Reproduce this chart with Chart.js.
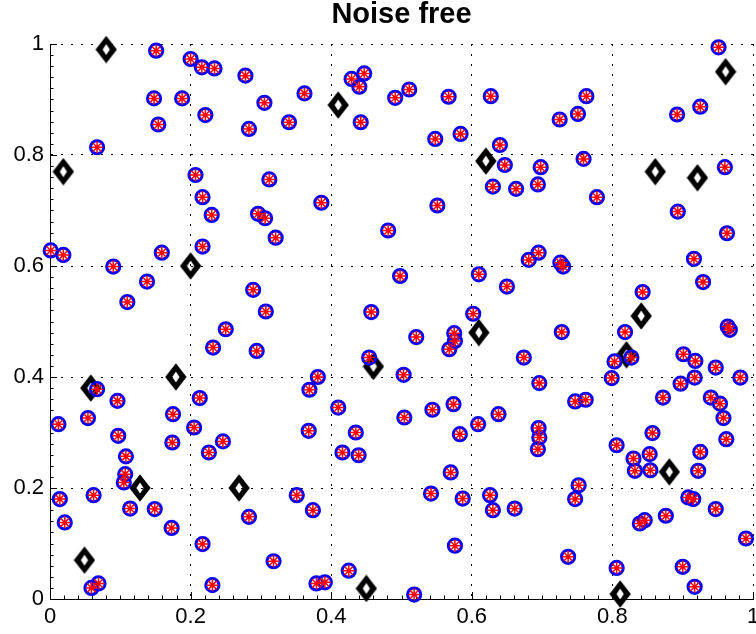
<!DOCTYPE html>
<html>
<head>
<meta charset="utf-8">
<script src="https://cdn.jsdelivr.net/npm/chart.js@4.4.0/dist/chart.umd.min.js"></script>
<style>
  html, body { margin: 0; padding: 0; background: #fff; }
  #plot { display: block; }
</style>
</head>
<body>
<canvas id="plot" width="756" height="634"></canvas>
<script>
// --- data ---
const circleX = [
  0.151, 0.200, 0.216, 0.234, 0.278, 0.148, 0.188, 0.305, 0.221, 0.154, 0.283, 0.067, 0.207, 0.312, 0.217, 0.230, 0.296, 0.306,
  0.362, 0.340, 0.429, 0.447, 0.440, 0.442, 0.491, 0.511, 0.567, 0.627, 0.548, 0.584, 0.640, 0.647, 0.630, 0.386, 0.551, 0.481, 0.663,
  0.951, 0.763, 0.751, 0.725, 0.925, 0.892, 0.698, 0.694, 0.759, 0.778, 0.960, 0.893,
  0.963, 0.695, 0.681, 0.726, 0.730, 0.916, 0.929, 0.650, 0.843, 0.964, 0.967, 0.818, 0.728, 0.674, 0.803, 0.827, 0.901, 0.918,
  0.947, 0.982, 0.799, 0.696, 0.897, 0.917, 0.872, 0.747, 0.762, 0.940, 0.953,
  0.958, 0.962, 0.695, 0.696, 0.694, 0.857, 0.806, 0.830, 0.853, 0.925, 0.832, 0.854, 0.922, 0.752, 0.747, 0.661, 0.908, 0.915,
  0.947, 0.839, 0.846, 0.876, 0.990, 0.737, 0.806, 0.900, 0.917,
  0.410, 0.368, 0.435, 0.416, 0.439, 0.504, 0.544, 0.574, 0.609, 0.638, 0.583, 0.570, 0.542, 0.587, 0.626, 0.630, 0.351, 0.374,
  0.318, 0.425, 0.379, 0.391, 0.518, 0.576,
  0.096, 0.213, 0.067, 0.012, 0.054, 0.175, 0.205, 0.246, 0.226, 0.174, 0.097, 0.108, 0.107, 0.105, 0.062, 0.014, 0.114, 0.149,
  0.173, 0.021, 0.283, 0.217, 0.059, 0.069, 0.231,
  0.321, 0.001, 0.019, 0.159, 0.217, 0.090, 0.138, 0.110, 0.289, 0.307, 0.250, 0.232, 0.294,
  0.498, 0.610, 0.457, 0.602, 0.521, 0.575, 0.576, 0.568, 0.454, 0.503, 0.381, 0.369
];
const circleY = [
  0.988, 0.973, 0.958, 0.956, 0.943, 0.902, 0.902, 0.894, 0.872, 0.855, 0.847, 0.814, 0.764, 0.756, 0.724, 0.692, 0.694, 0.686,
  0.911, 0.859, 0.937, 0.947, 0.923, 0.859, 0.903, 0.918, 0.905, 0.906, 0.829, 0.838, 0.818, 0.782, 0.743, 0.714, 0.709, 0.664, 0.739,
  0.994, 0.906, 0.874, 0.864, 0.887, 0.873, 0.778, 0.747, 0.793, 0.724, 0.778, 0.698,
  0.659, 0.624, 0.611, 0.606, 0.599, 0.613, 0.571, 0.563, 0.553, 0.491, 0.485, 0.481, 0.481, 0.435, 0.428, 0.435, 0.441, 0.429,
  0.417, 0.399, 0.398, 0.389, 0.388, 0.399, 0.363, 0.356, 0.359, 0.363, 0.352,
  0.326, 0.288, 0.308, 0.291, 0.270, 0.299, 0.277, 0.253, 0.261, 0.265, 0.231, 0.232, 0.231, 0.205, 0.180, 0.163, 0.183, 0.180,
  0.162, 0.136, 0.142, 0.150, 0.109, 0.076, 0.056, 0.058, 0.022,
  0.345, 0.303, 0.300, 0.264, 0.259, 0.327, 0.341, 0.351, 0.315, 0.333, 0.297, 0.228, 0.190, 0.181, 0.187, 0.160, 0.187, 0.160,
  0.068, 0.051, 0.028, 0.030, 0.008, 0.096,
  0.357, 0.362, 0.378, 0.315, 0.326, 0.333, 0.309, 0.284, 0.264, 0.282, 0.294, 0.257, 0.225, 0.210, 0.187, 0.180, 0.163, 0.162,
  0.128, 0.138, 0.148, 0.099, 0.020, 0.028, 0.025,
  0.651, 0.628, 0.620, 0.624, 0.635, 0.599, 0.572, 0.535, 0.557, 0.518, 0.486, 0.453, 0.447,
  0.582, 0.585, 0.517, 0.514, 0.472, 0.479, 0.465, 0.450, 0.435, 0.404, 0.400, 0.377
];
const diamondX = [0.080, 0.019, 0.410, 0.620, 0.861, 0.921, 0.961, 0.200, 0.058, 0.179,
                  0.460, 0.610, 0.820, 0.841, 0.881, 0.811, 0.450, 0.128, 0.269, 0.049];
const diamondY = [0.990, 0.770, 0.890, 0.789, 0.770, 0.759, 0.950, 0.600, 0.380, 0.400,
                  0.419, 0.480, 0.440, 0.510, 0.229, 0.009, 0.019, 0.200, 0.200, 0.070];
const tickValues = [0, 0.2, 0.4, 0.6, 0.8, 1];
const tickLabels = ['0', '0.2', '0.4', '0.6', '0.8', '1'];
const minorStep = 0.02;
const titleText = 'Noise free';

const FONT = "'Liberation Sans', Arial, Helvetica, sans-serif";

// MATLAB-style thick diamond marker
const makeDiamond = () => {
  const c = document.createElement('canvas');
  c.width = 22; c.height = 28;
  const g = c.getContext('2d');
  g.fillStyle = '#000';
  g.beginPath();
  g.moveTo(11, 0.3); g.lineTo(21.7, 14); g.lineTo(11, 27.7); g.lineTo(0.3, 14); g.closePath();
  g.fill();
  g.globalCompositeOperation = 'destination-out';
  g.beginPath();
  g.moveTo(11, 8.5); g.lineTo(14.6, 14); g.lineTo(11, 19.5); g.lineTo(7.4, 14); g.closePath();
  g.fill();
  return c;
};

// inward major/minor ticks on left and bottom axes
const inwardTicks = {
  id: 'inwardTicks',
  beforeDatasetsDraw(chart) {
    const { ctx, chartArea: a, scales: { x, y } } = chart;
    ctx.save();
    ctx.strokeStyle = '#000';
    ctx.lineWidth = 1;
    ctx.beginPath();
    const n = Math.round(1 / minorStep);
    for (let i = 0; i <= n; i++) {
      const v = i * minorStep;
      const len = i % 10 === 0 ? 7 : 3.5;
      const px = Math.round(x.getPixelForValue(v)) + 0.5;
      ctx.moveTo(px, a.bottom); ctx.lineTo(px, a.bottom - len);
      const py = Math.round(y.getPixelForValue(v)) + 0.5;
      ctx.moveTo(a.left, py); ctx.lineTo(a.left + len, py);
    }
    ctx.stroke();
    ctx.restore();
  }
};

const toPoints = (xs, ys) => xs.map((x, i) => ({ x, y: ys[i] }));

const axisCommon = {
  type: 'linear', min: 0, max: 1,
  afterBuildTicks: s => { s.ticks = tickValues.map(v => ({ value: v })); },
  ticks: {
    callback: (v, i) => tickLabels[i],
    color: '#000', autoSkip: false, maxRotation: 0,
    font: { family: FONT, size: 22 }
  },
  grid: { color: '#000', lineWidth: 1, drawTicks: false },
  border: { display: true, color: '#000', width: 1, dash: [2, 8] }
};

new Chart(document.getElementById('plot'), {
  type: 'scatter',
  data: {
    datasets: [
      {
        label: 'asterisk', data: toPoints(circleX, circleY),
        pointStyle: 'star', pointRadius: 6, pointBorderWidth: 1.5,
        pointBorderColor: '#ff0000', pointBackgroundColor: '#ff0000', clip: false
      },
      {
        label: 'circle', data: toPoints(circleX, circleY),
        pointStyle: 'circle', pointRadius: 6.6, pointBorderWidth: 3,
        pointBorderColor: '#0000ff', pointBackgroundColor: 'rgba(0,0,0,0)', clip: false
      },
      {
        label: 'diamond', data: toPoints(diamondX, diamondY),
        pointStyle: makeDiamond(), pointRadius: 10, clip: false
      }
    ]
  },
  options: {
    responsive: false,
    animation: false,
    devicePixelRatio: 1,
    layout: { padding: 0, autoPadding: false },
    scales: {
      x: {
        ...axisCommon,
        ticks: { ...axisCommon.ticks, padding: 5 },
        afterFit: s => { s.height = 35; s.paddingLeft = 0; s.paddingRight = 3; }
      },
      y: {
        ...axisCommon,
        ticks: { ...axisCommon.ticks, padding: 6 },
        afterFit: s => { s.width = 50; }
      }
    },
    plugins: {
      legend: { display: false },
      tooltip: { enabled: false },
      title: {
        display: true, text: titleText, color: '#000', fullSize: false,
        font: { family: FONT, size: 29, weight: 'bold', lineHeight: 1 },
        padding: { top: 0, bottom: 15 }
      }
    }
  },
  plugins: [inwardTicks]
});
</script>
</body>
</html>
